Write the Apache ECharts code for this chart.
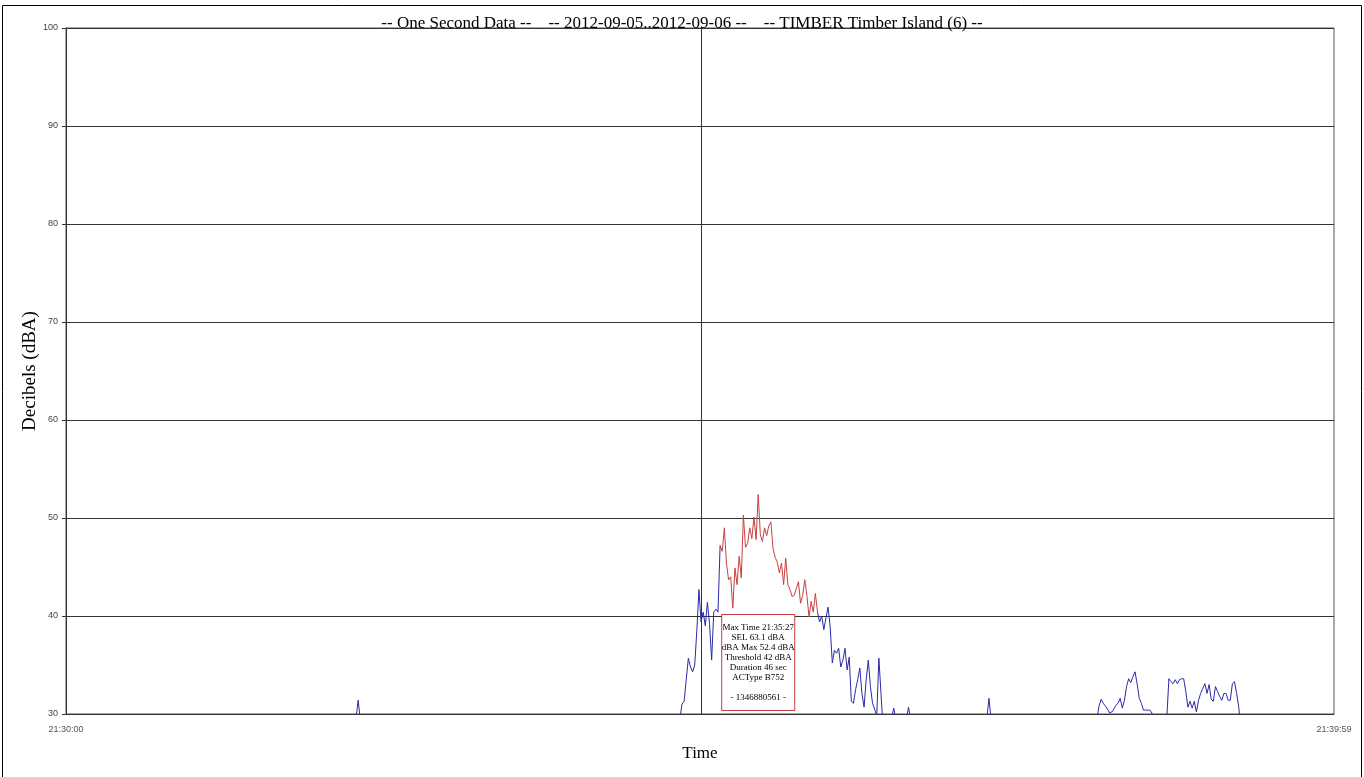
<!DOCTYPE html>
<html>
<head>
<meta charset="utf-8">
<script src="https://cdn.jsdelivr.net/npm/echarts@6/dist/echarts.min.js"></script>
<style>
html,body{margin:0;padding:0;background:#fff;}
#chart{width:1364px;height:777px;}
</style>
</head>
<body>
<div id="chart"></div>
<script>
// Seconds after 21:30:00 and the level (dBA) read at each second; values below 30 lie under the axis
const timeSec = [0,136,137,138,139,140,
  288,289,290,291,292,293,294,295,296,297,298,299,300,301,302,303,304,305,306,307,308,
  309,310,311,312,313,314,315,316,317,318,319,320,321,322,323,324,325,326,327,328,329,330,
  331,332,333,334,335,336,337,338,339,340,341,342,343,344,345,346,347,348,349,350,351,352,353,354,355,
  356,357,358,359,360,361,362,363,364,365,366,367,368,369,370,371,372,373,374,375,376,377,378,379,380,
  381,382,383,384,385,386,
  390,391,392,397,398,399,435,436,437,
  486,487,488,489,490,491,492,493,494,495,496,497,498,499,500,501,502,503,504,505,506,507,508,509,510,
  511,512,513,514,
  519,520,521,522,523,524,525,526,527,528,529,530,531,532,533,534,535,536,537,538,539,540,541,542,543,
  544,545,546,547,548,549,550,551,552,553,554,555,599];
const levelDba = [28,28,29.5,31.4,29.5,28,
  28,28.5,29.5,31.0,31.3,33.5,35.7,34.8,34.3,35.0,38.5,42.7,39.4,40.4,39.0,41.4,39.2,35.5,40.4,40.7,40.4,
  47.2,46.6,49.0,45.4,43.7,44.0,40.8,44.9,43.2,46.1,43.9,50.3,47.0,47.4,49.0,47.9,50.1,47.8,52.4,48.3,47.6,49.0,
  48.2,49.2,49.6,46.9,46.0,45.5,44.4,45.4,43.2,45.9,43.2,42.7,42.0,42.1,42.8,43.5,41.3,42.1,43.7,42.1,39.9,41.5,40.4,42.3,40.4,
  39.4,40.0,38.6,39.8,40.9,38.9,35.2,36.5,36.2,36.7,34.8,35.5,36.7,34.5,35.8,31.3,31.1,32.5,33.5,34.7,32.1,30.7,33.5,35.5,32.8,
  31.1,30.5,29.8,35.7,32.1,28.5,
  29.5,30.6,29.5,29.5,30.7,29.5,29.5,31.6,29.5,
  28.5,29.5,30.8,31.5,31.1,30.8,30.5,30.1,30.2,30.5,30.9,31.1,31.6,30.6,31.4,32.8,33.6,33.2,33.8,34.3,33.1,31.6,31.1,30.4,30.4,
  30.4,30.4,30.1,29.2,
  28.5,29.5,33.6,33.3,33.1,33.5,33.1,33.5,33.6,33.6,32.3,30.7,31.3,30.6,31.3,30.2,31.4,32.1,32.6,33.1,32.1,33.0,31.5,31.3,32.8,
  32.3,31.8,31.4,32.1,32.1,31.4,31.4,33.1,33.3,32.1,30.7,28.5,28];
// Event above threshold
const eventStart = 309, eventEnd = 355;
const markerSec = 300;           // 21:35:00 reference line
const maxSec = 327;              // 21:35:27
const yTicks = [30,40,50,60,70,80,90,100];
const xTickLabels = ['21:30:00','21:39:59'];
const titleText = '-- One Second Data --    -- 2012-09-05..2012-09-06 --    -- TIMBER Timber Island (6) --';
const eventInfo = ['Max Time 21:35:27','SEL 63.1 dBA','dBA Max 52.4 dBA','Threshold 42 dBA','Duration 46 sec','ACType B752','','- 1346880561 -'];

const allData = timeSec.map((t,i)=>[t, levelDba[i]]);
// blue trace: gap inside the event so the red trace is drawn alone there
const blueData = allData.map(d => (d[0] > eventStart && d[0] < eventEnd) ? [d[0], null] : d);
const eventData = allData.filter(d => d[0] >= eventStart && d[0] <= eventEnd);

const chart = echarts.init(document.getElementById('chart'), null, {renderer:'canvas'});
chart.setOption({
  animation:false,
  backgroundColor:'#fff',
  title:{
    text:titleText, left:'center', top:10,
    textStyle:{fontFamily:'Liberation Serif', fontSize:17, fontWeight:'normal', color:'#000'}
  },
  graphic:[{
    type:'rect', silent:true, z:-1,
    shape:{x:2.5, y:5.5, width:1359, height:800},
    style:{fill:null, stroke:'#000', lineWidth:1}
  }],
  grid:{left:66, right:30, top:28, bottom:63, show:true, borderColor:'#555', borderWidth:1, containLabel:false, outerBoundsMode:'none'},
  xAxis:{
    type:'value', min:0, max:599, interval:599,
    name:'Time', nameLocation:'middle', nameGap:31, nameMoveOverlap:false,
    nameTextStyle:{fontFamily:'Liberation Serif', fontSize:17, color:'#000'},
    axisLine:{show:true, onZero:false, lineStyle:{color:'#333'}},
    axisTick:{show:false},
    splitLine:{show:false},
    axisLabel:{fontFamily:'Liberation Sans', fontSize:9, color:'#555', margin:11,
      formatter:(v)=> v===0 ? xTickLabels[0] : (v===599 ? xTickLabels[1] : '')}
  },
  yAxis:{
    type:'value', min:yTicks[0], max:yTicks[yTicks.length-1], interval:10,
    name:'Decibels (dBA)', nameLocation:'middle', nameGap:26, nameMoveOverlap:false,
    nameTextStyle:{fontFamily:'Liberation Serif', fontSize:19, color:'#000'},
    axisLine:{show:true, lineStyle:{color:'#333'}},
    axisTick:{show:true, length:4, lineStyle:{color:'#333'}},
    splitLine:{show:true, lineStyle:{color:'#333', width:1}},
    axisLabel:{fontFamily:'Liberation Sans', fontSize:9, color:'#444', margin:8}
  },
  series:[
    {
      type:'line', data:blueData, showSymbol:false, clip:true, z:2, connectNulls:false,
      lineStyle:{color:'#2a2aa8', width:1}, itemStyle:{color:'#2a2aa8'},
      markLine:{
        silent:true, symbol:['none','none'], label:{show:false},
        lineStyle:{color:'#333', type:'solid', width:1},
        data:[{xAxis:markerSec}]
      }
    },
    {
      type:'line', data:eventData, showSymbol:false, clip:true, z:3,
      lineStyle:{color:'#c84040', width:1}, itemStyle:{color:'#c84040'},
      markPoint:{
        silent:true, symbol:'rect', symbolSize:0,
        data:[{coord:[maxSec, 35.25]}],
        label:{
          show:true, position:'inside', formatter: eventInfo.join('\n'),
          fontFamily:'Liberation Serif', fontSize:9, color:'#000', lineHeight:10,
          align:'center', width:64,
          backgroundColor:'#fff', borderColor:'#c84040', borderWidth:1, padding:[8,4,7,4]
        }
      }
    }
  ]
});
</script>
</body>
</html>
